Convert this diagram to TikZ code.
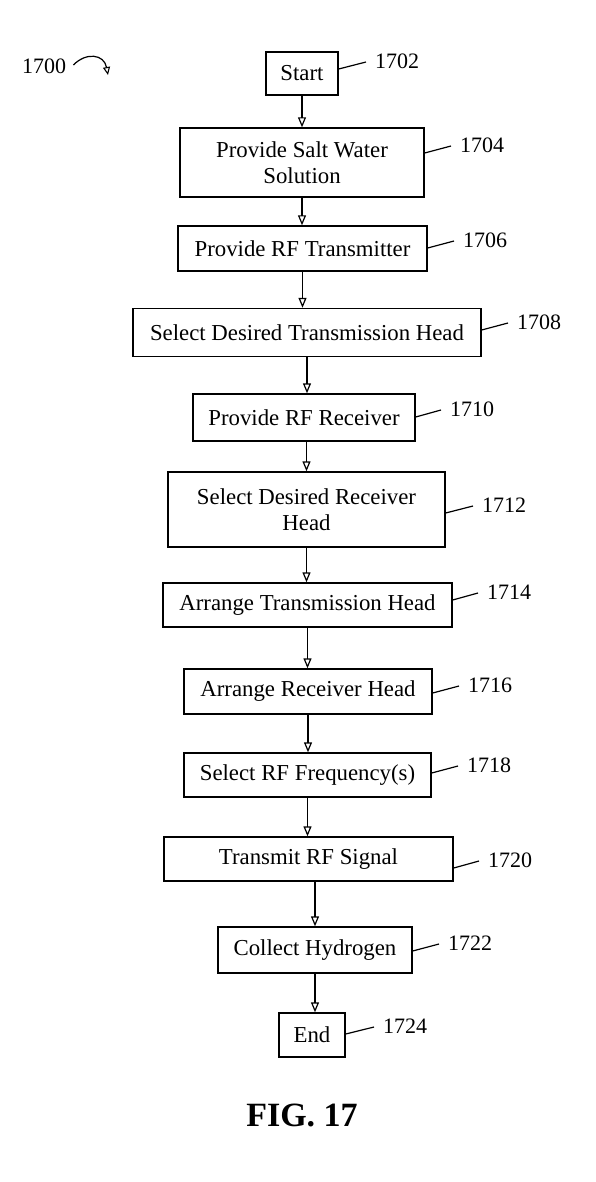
\documentclass[tikz,border=0pt]{standalone}
\usepackage{fontspec}
\setmainfont{Liberation Serif}
\usetikzlibrary{arrows.meta,calc}
\begin{document}
\begin{tikzpicture}[x=1pt,y=-1pt,
  stepbox/.style={draw,line width=1.4pt,rectangle,inner sep=0pt,align=center,
    font=\fontsize{22.8}{26.5}\selectfont},
  reflabel/.style={anchor=west,inner sep=0pt,font=\fontsize{22}{26}\selectfont},
  flow/.style={line width=1.4pt,-{Triangle[open,length=10pt,width=8pt,line width=1.2pt]}},
  leader/.style={line width=1.2pt}]
\path[use as bounding box] (0,0) rectangle (596,1182);

% boxes
\node[stepbox,minimum width=72pt,minimum height=43pt] (b02) at (302,73.5) {Start};
\node[stepbox,minimum width=244pt,minimum height=69pt] (b04) at (302,162.5) {Provide Salt Water\\Solution};
\node[stepbox,minimum width=249pt,minimum height=45pt] (b06) at (302.5,248.5) {Provide RF Transmitter};
\node[stepbox,minimum width=348pt,minimum height=48pt] (b08) at (307,332.5) {Select Desired Transmission Head};
\node[stepbox,minimum width=222pt,minimum height=47pt] (b10) at (304,417.5) {Provide RF Receiver};
\node[stepbox,minimum width=277pt,minimum height=75pt] (b12) at (306.5,509.5) {Select Desired Receiver\\Head};
\node[stepbox,minimum width=289pt,minimum height=44pt] (b14) at (307.5,605) {Arrange Transmission Head};
\node[stepbox,minimum width=248pt,minimum height=45pt] (b16) at (308,691.5) {Arrange Receiver Head};
\node[stepbox,minimum width=247pt,minimum height=44pt] (b18) at (307.5,775) {Select RF Frequency(s)};
\node[stepbox,minimum width=289pt,minimum height=44pt] (b20) at (308.5,859) {Transmit RF Signal};
\node[stepbox,minimum width=194pt,minimum height=46pt] (b22) at (315,950) {Collect Hydrogen};
\node[stepbox,minimum width=66pt,minimum height=44pt] (b24) at (312,1035) {End};

% flow arrows
\draw[flow] (b02.south) -- (b02.south |- b04.north);
\draw[flow] (b04.south) -- (b04.south |- b06.north);
\draw[flow] (b06.south) -- (b06.south |- b08.north);
\draw[flow] (b08.south) -- (b08.south |- b10.north);
\draw[flow] (b10.south -| b12.north) -- (b12.north);
\draw[flow] (b12.south) -- (b12.south |- b14.north);
\draw[flow] (b14.south) -- (b14.south |- b16.north);
\draw[flow] (b16.south) -- (b16.south |- b18.north);
\draw[flow] (b18.south) -- (b18.south |- b20.north);
\draw[flow] (b20.south -| b22.north) -- (b22.north);
\draw[flow] (b22.south) -- (b22.south |- b24.north);

% reference labels
\node[reflabel] (l02) at (375,61) {1702};
\node[reflabel] (l04) at (460,145) {1704};
\node[reflabel] (l06) at (463,240) {1706};
\node[reflabel] (l08) at (517,322) {1708};
\node[reflabel] (l10) at (450,409) {1710};
\node[reflabel] (l12) at (482,505) {1712};
\node[reflabel] (l14) at (487,592) {1714};
\node[reflabel] (l16) at (468,685) {1716};
\node[reflabel] (l18) at (467,765) {1718};
\node[reflabel] (l20) at (488,860) {1720};
\node[reflabel] (l22) at (448,943) {1722};
\node[reflabel] (l24) at (383,1026) {1724};

\foreach \b/\l in {02/02,04/04,06/06,08/08,10/10,12/12,14/14,16/16,18/18,20/20,22/22,24/24}{
  \draw[leader] ($(b\b.east |- l\l.west)+(0,8)$) -- ($(l\l.west)+(-9,1)$);
}

% figure reference
\node[reflabel] (l00) at (22,66) {1700};
\coordinate (c00) at (108,75);
\draw[line width=1.2pt,-{Triangle[open,length=8pt,width=7pt,line width=1.1pt]}]
  ($(l00.east)+(7,-1)$) .. controls (86,52) and (104,54) .. (c00);

\node[inner sep=0pt,font=\fontsize{34}{40}\selectfont\bfseries] (fig) at (302,1115) {FIG. 17};
\end{tikzpicture}
\end{document}
